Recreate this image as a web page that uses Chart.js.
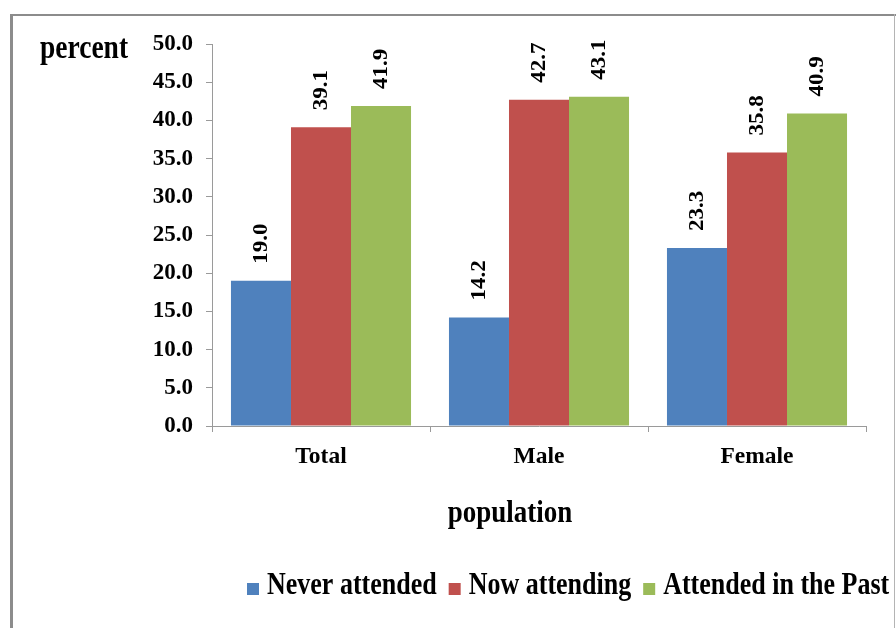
<!DOCTYPE html>
<html>
<head>
<meta charset="utf-8">
<script src="https://cdn.jsdelivr.net/npm/chart.js@4/dist/chart.umd.min.js"></script>
<style>
  html, body { margin: 0; padding: 0; background: #fff; overflow: hidden; }
  #wrap { position: relative; width: 896px; height: 628px; }
</style>
</head>
<body>
<div id="wrap"><canvas id="chart"></canvas></div>
<script>
// School attendance by population group (percent)
const categories = ['Total', 'Male', 'Female'];
const seriesNames = ['Never attended', 'Now attending', 'Attended in the Past'];
const neverAttended = [19.0, 14.2, 23.3];
const nowAttending = [39.1, 42.7, 35.8];
const attendedPast = [41.9, 43.1, 40.9];
const seriesColors = ['#4F81BD', '#C0504D', '#9BBB59'];
const yAxisTitle = 'percent';
const xAxisTitle = 'population';

const SERIF = '"Liberation Serif", "Times New Roman", serif';
const AXIS_GREY = '#9a9a9a';
const TEXT_STRETCH = 1.2;   // tall, narrow lettering for captions and legend

// Draw text with a vertical stretch anchored at its baseline
function tallText(ctx, text, x, y, sy) {
  ctx.save();
  ctx.translate(x, y);
  ctx.scale(1, sy);
  ctx.fillText(text, 0, 0);
  ctx.restore();
}

// Outer frame of the chart object
const framePlugin = {
  id: 'frame',
  beforeDraw(chart) {
    const ctx = chart.ctx;
    ctx.save();
    ctx.fillStyle = '#ffffff';
    ctx.fillRect(0, 0, chart.width, chart.height);
    ctx.fillStyle = '#8c8c8c';
    ctx.fillRect(10, 14, chart.width - 10, 2);
    ctx.fillRect(10, 14, 3, chart.height - 14);
    ctx.fillStyle = '#b4b4b4';
    ctx.fillRect(894, 14, 1, chart.height - 14);
    ctx.restore();
  }
};

// Axis captions: horizontal "percent" beside the value axis, "population" under the categories
const captionPlugin = {
  id: 'captions',
  afterDraw(chart) {
    const ctx = chart.ctx;
    ctx.save();
    ctx.fillStyle = '#000';
    ctx.textBaseline = 'alphabetic';
    ctx.font = 'bold 27.5px ' + SERIF;
    ctx.textAlign = 'left';
    tallText(ctx, yAxisTitle, 40, 58, TEXT_STRETCH);
    ctx.font = 'bold 27px ' + SERIF;
    ctx.textAlign = 'center';
    tallText(ctx, xAxisTitle, 510, 522, TEXT_STRETCH);
    ctx.restore();
  }
};

// Vertical value labels above each bar
const valueLabelPlugin = {
  id: 'valueLabels',
  afterDatasetsDraw(chart) {
    const ctx = chart.ctx;
    ctx.save();
    ctx.font = 'bold 20px ' + SERIF;
    ctx.fillStyle = '#000';
    ctx.textAlign = 'left';
    ctx.textBaseline = 'middle';
    chart.data.datasets.forEach((ds, di) => {
      chart.getDatasetMeta(di).data.forEach((bar, i) => {
        ctx.save();
        ctx.translate(bar.x + 1, bar.y - 17);
        ctx.rotate(-Math.PI / 2);
        ctx.scale(1.15, 1);
        ctx.fillText(ds.data[i].toFixed(1), 0, 0);
        ctx.restore();
      });
    });
    ctx.restore();
  }
};

// Single-row legend along the bottom, running past the right edge if needed
const rowLegendPlugin = {
  id: 'rowLegend',
  afterDraw(chart) {
    const ctx = chart.ctx;
    ctx.save();
    ctx.font = 'bold 26px ' + SERIF;
    ctx.textAlign = 'left';
    ctx.textBaseline = 'alphabetic';
    let x = 247;
    const baseline = 594;
    chart.data.datasets.forEach(ds => {
      ctx.fillStyle = ds.backgroundColor;
      ctx.fillRect(x, 583, 12, 12);
      ctx.fillStyle = '#000';
      tallText(ctx, ds.label, x + 20, baseline, TEXT_STRETCH);
      x += 20 + ctx.measureText(ds.label).width + 12;
    });
    ctx.restore();
  }
};

const seriesValues = [neverAttended, nowAttending, attendedPast];

new Chart(document.getElementById('chart'), {
  type: 'bar',
  data: {
    labels: categories,
    datasets: seriesNames.map((name, i) => ({
      label: name,
      data: seriesValues[i],
      backgroundColor: seriesColors[i],
      borderWidth: 0,
      barPercentage: 1.0,
      categoryPercentage: 0.826
    }))
  },
  options: {
    responsive: true,
    maintainAspectRatio: false,
    animation: false,
    events: [],
    layout: { padding: { top: 44, right: 30, bottom: 0, left: 0 } },
    plugins: {
      legend: { display: false },
      title: { display: false },
      tooltip: { enabled: false }
    },
    scales: {
      x: {
        grid: { drawOnChartArea: false, drawTicks: true, tickLength: 6, color: AXIS_GREY },
        border: { display: true, color: AXIS_GREY, width: 1 },
        ticks: { color: '#000', font: { family: SERIF, size: 23.5, weight: 'bold' }, padding: 11 },
        afterFit(scale) { scale.height = 202; }
      },
      y: {
        min: 0,
        max: 50,
        grid: { drawOnChartArea: false, drawTicks: true, tickLength: 6, color: AXIS_GREY },
        border: { display: true, color: AXIS_GREY, width: 1 },
        ticks: {
          stepSize: 5,
          color: '#000',
          padding: 13,
          font: { family: SERIF, size: 23, weight: 'bold' },
          callback: v => Number(v).toFixed(1)
        },
        afterFit(scale) { scale.width = 212; }
      }
    }
  },
  plugins: [framePlugin, captionPlugin, valueLabelPlugin, rowLegendPlugin]
});
</script>
</body>
</html>
